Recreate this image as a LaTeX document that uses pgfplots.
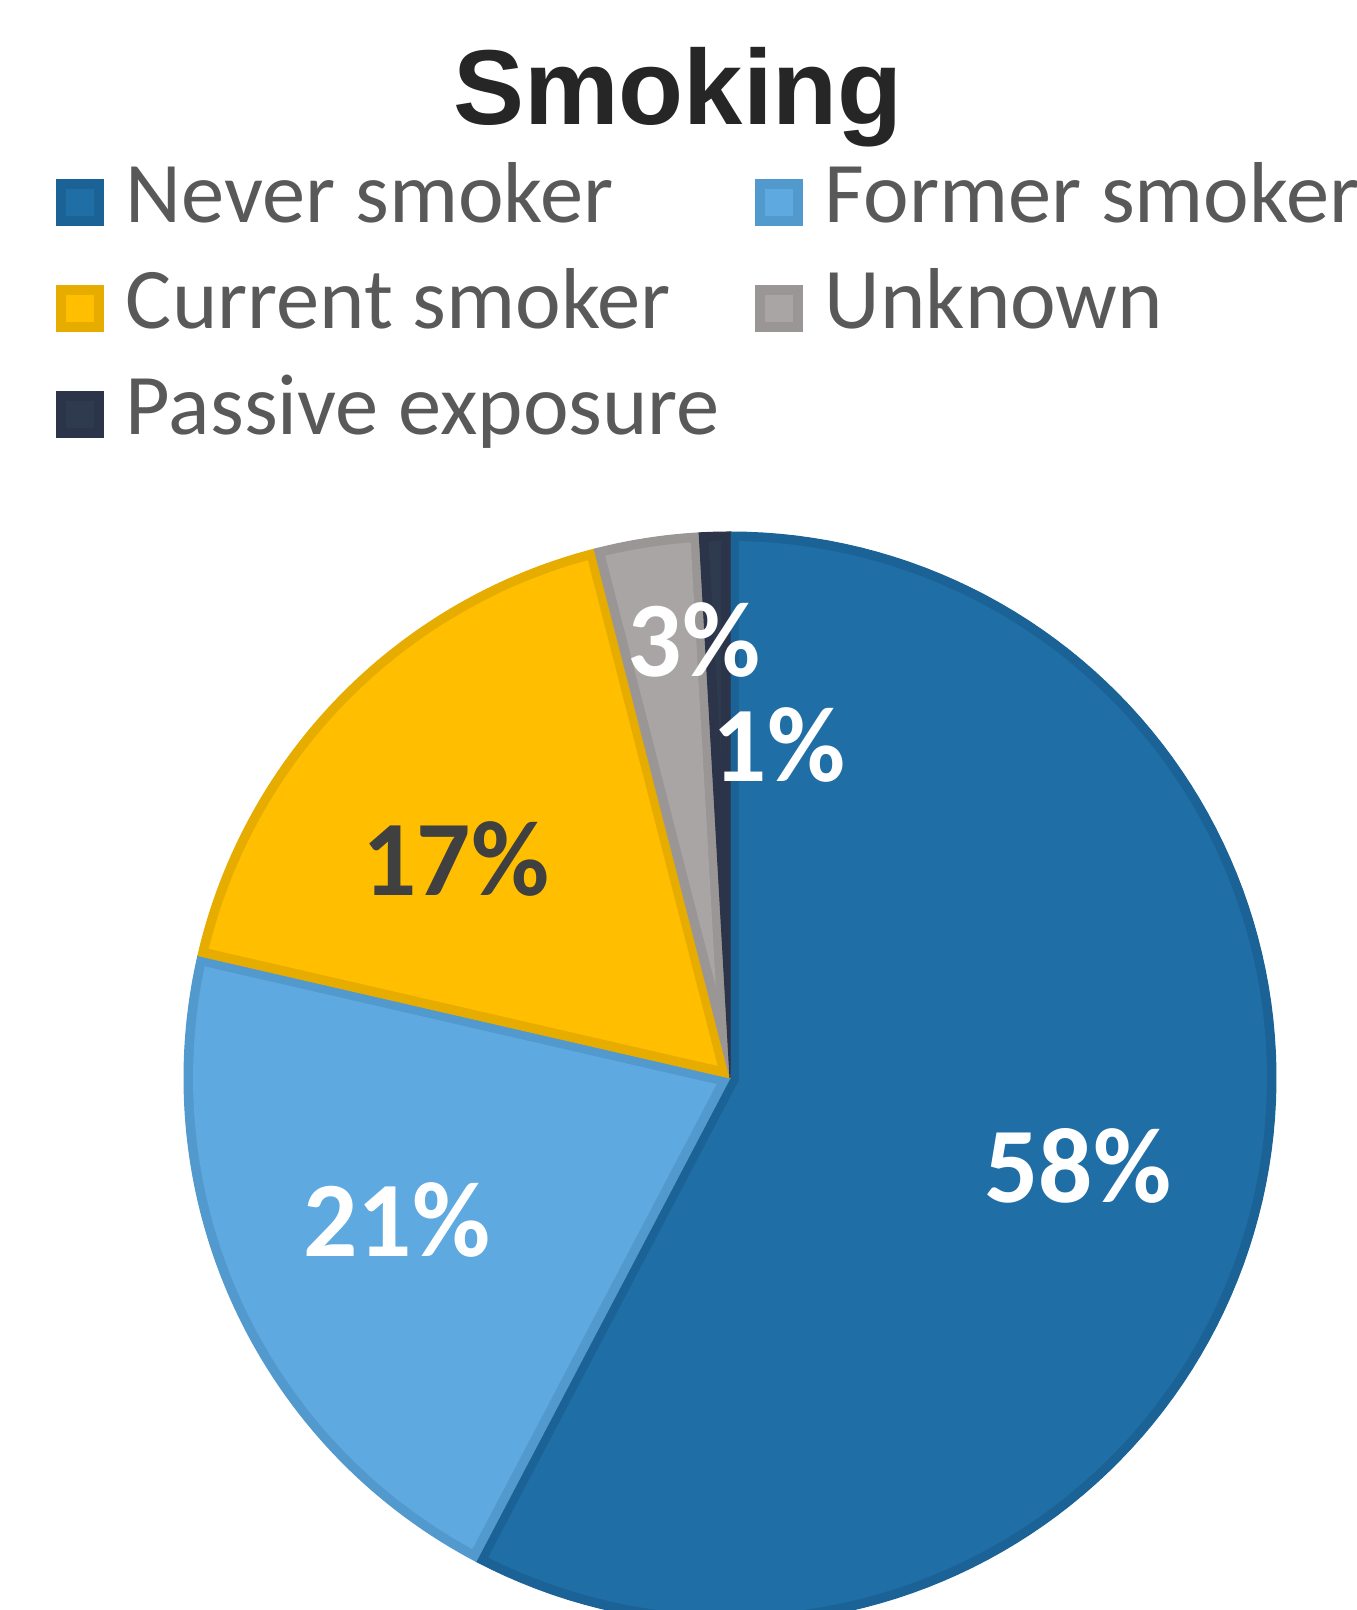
\documentclass[border=0pt]{standalone}
\usepackage{pgfplots}
\pgfplotsset{compat=1.18}
\usepackage{pgfplotstable}
\usepackage{fontspec}
\setmainfont{Carlito}
\newfontfamily\titlefont{Liberation Sans}

\definecolor{cNever}{HTML}{1F6EA6}
\definecolor{cNeverB}{HTML}{1B6297}
\definecolor{cFormer}{HTML}{5DA9E0}
\definecolor{cFormerB}{HTML}{5299CE}
\definecolor{cCurrent}{HTML}{FFBE00}
\definecolor{cCurrentB}{HTML}{E6AC00}
\definecolor{cUnknown}{HTML}{A9A5A5}
\definecolor{cUnknownB}{HTML}{9A9696}
\definecolor{cPassive}{HTML}{2E3B4F}
\definecolor{cPassiveB}{HTML}{2B3448}
\definecolor{legtext}{HTML}{595959}
\definecolor{titletext}{HTML}{262626}
\definecolor{darklabel}{HTML}{404040}

% share of each smoking status (percent), clockwise from 12 o'clock
\pgfplotstableread{
label value
Never 57.7
Former 20.9
Current 17.4
Unknown 3.1
Passive 0.9
}\piedata

\def\curang{90}
\newcommand\mkslice[2]{%
  \pgfplotstablegetelem{#1}{value}\of\piedata
  \pgfmathsetmacro\pieTh{3.6*\pgfplotsretval}%
  \pgfmathsetmacro\pieS{\curang}%
  \pgfmathsetmacro\pieE{\curang-\pieTh}%
  \pgfmathsetmacro\pieDl{asin(9/537)}%
  \pgfmathsetmacro\pieSi{\pieS-\pieDl}%
  \pgfmathsetmacro\pieEi{\pieE+\pieDl}%
  \pgfmathsetmacro\pieV{9/sin(\pieTh/2)}%
  \pgfmathsetmacro\pieM{(\pieS+\pieE)/2}%
  \pgfmathsetmacro\pieVx{\pieV*cos(\pieM)}%
  \pgfmathsetmacro\pieVy{\pieV*sin(\pieM)}%
  \expandafter\xdef\csname #2S\endcsname{\pieS}%
  \expandafter\xdef\csname #2E\endcsname{\pieE}%
  \expandafter\xdef\csname #2Si\endcsname{\pieSi}%
  \expandafter\xdef\csname #2Ei\endcsname{\pieEi}%
  \expandafter\xdef\csname #2Vx\endcsname{\pieVx}%
  \expandafter\xdef\csname #2Vy\endcsname{\pieVy}%
  \xdef\curang{\pieE}%
}
\mkslice{0}{Never}
\mkslice{1}{Former}
\mkslice{2}{Current}
\mkslice{3}{Unknown}
\mkslice{4}{Passive}

\newcommand\drawslice[3]{%
  \addplot[forget plot, fill=#3, draw=#3, line width=0.3pt,
    domain=\csname #1E\endcsname:\csname #1S\endcsname, samples=120]
    ({546*cos(x)},{546*sin(x)}) -- (axis cs:0,0) -- cycle;
  \addplot[forget plot, fill=#2, draw=none,
    domain=\csname #1Ei\endcsname:\csname #1Si\endcsname, samples=120]
    ({537*cos(x)},{537*sin(x)}) -- (axis cs:\csname #1Vx\endcsname,\csname #1Vy\endcsname) -- cycle;
}

\newcommand\legimg[2]{%
  \addlegendimage{legend image code/.code={%
    \fill[#2, draw=none] (0cm,-0.235cm) rectangle (0.48cm,0.235cm);
    \fill[#1, draw=none] (0.10cm,-0.135cm) rectangle (0.38cm,0.135cm);
    \path[draw=none, fill=none] (0cm,-0.235cm) rectangle (0.70cm,0.235cm);}}}

\begin{document}
\begin{tikzpicture}
\useasboundingbox (0,0) rectangle (13.56cm,16.10cm);
\begin{axis}[
  at={(0,0)}, anchor=south west,
  scale only axis, width=13.56cm, height=16.10cm,
  xmin=-730, xmax=626, ymin=-532, ymax=1078,
  hide axis,
  legend columns=2,
  legend cell align=left,
  legend style={draw=none, fill=none, inner sep=0pt, outer sep=0pt,
    row sep=0.26cm, column sep=0pt,
    nodes={inner sep=0pt, outer sep=0pt, text height=0.6cm, text depth=0.2cm},
    font=\fontsize{24.6}{24.6}\selectfont, text=legtext,
    at={(axis cs:-674,915)}, anchor=north west},
]
\drawslice{Never}{cNever}{cNeverB}
\drawslice{Former}{cFormer}{cFormerB}
\drawslice{Current}{cCurrent}{cCurrentB}
\drawslice{Unknown}{cUnknown}{cUnknownB}
\drawslice{Passive}{cPassive}{cPassiveB}

\legimg{cNever}{cNeverB}
\addlegendentry{\makebox[6.29cm][l]{Never smoker}}
\legimg{cFormer}{cFormerB}
\addlegendentry{Former smoker}
\legimg{cCurrent}{cCurrentB}
\addlegendentry{\makebox[6.29cm][l]{Current smoker}}
\legimg{cUnknown}{cUnknownB}
\addlegendentry{Unknown}
\legimg{cPassive}{cPassiveB}
\addlegendentry{\makebox[6.29cm][l]{Passive exposure}}

\node[anchor=base, text=titletext, font=\titlefont\bfseries\fontsize{30.3}{30.3}\selectfont] at (axis cs:-52,953) {Smoking};

\node[anchor=base, text=white, font=\bfseries\fontsize{30.5}{30.5}\selectfont] at (axis cs:348,-125) {58\%};
\node[anchor=base, text=white, font=\bfseries\fontsize{30.5}{30.5}\selectfont] at (axis cs:-333,-179) {21\%};
\node[anchor=base, text=darklabel, font=\bfseries\fontsize{30.5}{30.5}\selectfont] at (axis cs:-274,182) {17\%};
\node[anchor=base, text=white, font=\bfseries\fontsize{30.5}{30.5}\selectfont] at (axis cs:-36,401) {3\%};
\node[anchor=base, text=white, font=\bfseries\fontsize{30.5}{30.5}\selectfont] at (axis cs:49,296) {1\%};
\end{axis}
\end{tikzpicture}
\end{document}
